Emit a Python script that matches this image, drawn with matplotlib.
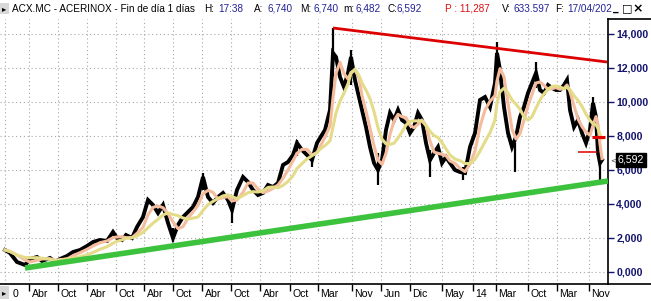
import numpy as np
import pandas as pd
import matplotlib
matplotlib.use("Agg")
import matplotlib.pyplot as plt
import matplotlib.transforms as mtransforms

# ---------------- data ----------------
bar_index = [5, 10, 17, 25, 30, 37, 42, 50, 55, 60, 67, 73, 80, 87, 93, 100, 107, 113, 117, 122,
             126, 132, 137, 143, 148, 153, 158, 163, 168, 173, 178, 183, 188, 193, 198, 203, 208,
             213, 218, 223, 228, 232, 237, 243, 248, 253, 258, 263, 268, 273, 278, 283, 288, 293,
             297, 302, 307, 312, 317, 320, 325, 330, 333, 336, 340, 344, 348, 351, 355, 359, 362,
             366, 370, 374, 378, 382, 386, 390, 394, 398, 402, 406, 410, 414, 418, 422, 426, 430,
             434, 438, 442, 446, 450, 455, 460, 465, 470, 475, 480, 485, 490, 495, 497, 500, 504,
             508, 512, 516, 520, 524, 528, 532, 536, 540, 544, 548, 552, 556, 560, 564, 567, 570,
             574, 578, 582, 586, 590, 593, 596, 598, 600, 602]
close = [1294, 1118, 588, 412, 765, 882, 647, 824, 588, 765, 941, 1176, 1294, 1529, 1765, 1882,
         1824, 2353, 2000, 1882, 2176, 2000, 2647, 3235, 4235, 3941, 3471, 3941, 2882, 2000, 2765,
         3235, 3529, 3824, 4412, 5588, 4412, 4059, 4412, 4647, 4235, 3647, 4824, 5588, 5294, 4824,
         4529, 4647, 5118, 5000, 5235, 6294, 6471, 6882, 7588, 7176, 6882, 6588, 7588, 7882, 8353,
         9529, 12882, 12647, 11471, 10882, 11706, 12647, 11294, 10294, 9529, 8529, 7353, 6412,
         6000, 6588, 8353, 9353, 8941, 9529, 8941, 8765, 8176, 8529, 9353, 8941, 7588, 6588, 7000,
         7353, 6412, 6765, 6412, 6000, 5882, 5824, 7353, 8176, 10118, 10294, 9706, 11118, 12882,
         11882, 9706, 8176, 7353, 7941, 9118, 9706, 10529, 11118, 11706, 10706, 10529, 11000,
         10824, 10706, 10706, 11000, 11294, 9529, 8529, 8941, 8176, 7588, 8353, 9941, 9118, 7000,
         6412, 6592]

spike_index = [333, 351, 378, 430, 497, 600, 536, 173, 232, 203, 297, 312, 515, 463, 593]
spike_low = [11500, 11000, 5118, 5588, 11000, 5294, 10800, 1765, 2882, 4800, 6800, 6176, 5882, 5412, 8800]
spike_high = [14353, 13059, 7000, 7200, 13529, 7000, 12353, 2600, 4000, 5824, 7765, 7000, 7600, 6200, 10294]

support_x = [25, 608]
support_y = [235, 5353]
resist_x = [333, 607]
resist_y = [14353, 12353]
level1_x = [592, 605]
level1_y = [7941, 7941]
level2_x = [578, 597]
level2_y = [7059, 7059]

tick_pos = [29, 58, 87, 116, 144, 173, 202, 231, 260, 290, 318, 352, 381, 410, 442, 473, 496, 528, 557, 589]
tick_lab = ["Abr", "Oct", "Abr", "Oct", "Abr", "Oct", "Abr", "Oct", "Abr", "Oct", "Mar",
            "Nov", "Jun", "Dic", "May", "14", "Mar", "Oct", "Mar", "Nov"]
y_ticks = [0, 2000, 4000, 6000, 8000, 10000, 12000, 14000]
last_price = 6592

# ---------------- figure ----------------
W, H = 651, 301
fig = plt.figure(figsize=(W / 100, H / 100), dpi=100)
fig.patch.set_facecolor("white")

def fx(x):
    return x / W

def fy(y):
    return 1 - y / H

ax = fig.add_axes([0, fy(284), fx(608), fy(19) - fy(284)])
ax.set_xlim(0, 608)
ax.set_ylim(-706, 14882)

s = pd.Series(close, index=bar_index, dtype=float)
ma_fast = s.rolling(3, min_periods=1).mean()
ma_slow = s.rolling(7, min_periods=1).mean()

# grid
grid_kw = dict(color="#a8a8a8", lw=0.8, linestyle=(0, (1, 2.5)), zorder=0)
for yv in y_ticks:
    ax.axhline(yv, **grid_kw)
for xv in [5] + tick_pos:
    ax.axvline(xv, **grid_kw)

ax.vlines(spike_index, spike_low, spike_high, color="black", lw=1.6, zorder=2)
ax.plot(bar_index, close, color="black", lw=2.8, zorder=2, solid_joinstyle="miter")
ax.plot(ma_fast.index, ma_fast.values, color="#f4bc9c", lw=2.2, zorder=3)
ax.plot(ma_slow.index, ma_slow.values, color="#e4dc88", lw=2.2, zorder=4)

ax.plot(support_x, support_y, color="#3cc23c", lw=4, solid_capstyle="butt", zorder=5)
ax.plot(resist_x, resist_y, color="#dd0000", lw=2, solid_capstyle="butt", zorder=5)
ax.plot(level1_x, level1_y, color="#dd0000", lw=2.2, solid_capstyle="butt", zorder=5)
ax.plot(level2_x, level2_y, color="#dd0000", lw=1.1, solid_capstyle="butt", zorder=5)

for sp in ["top", "left"]:
    ax.spines[sp].set_visible(False)
ax.spines["bottom"].set_linewidth(1.2)
ax.spines["right"].set_linewidth(1.2)

ax.set_xticks(tick_pos)
ax.set_xticklabels([])
ax.tick_params(axis="x", direction="out", length=5, width=1, color="black")

ax.yaxis.tick_right()
ax.set_yticks(y_ticks)
ax.set_yticklabels([f"{v/1000:.3f}".replace(".", ",") if v < 1000 else f"{v//1000},000" for v in y_ticks])
ax.tick_params(axis="y", direction="out", length=4, width=1, pad=2, labelsize=7.6,
               labelcolor="#14146e", color="#14146e")
for lbl in ax.get_yticklabels():
    lbl.set_fontfamily("Liberation Sans")
    lbl.set_fontweight("bold")

# x labels
xtrans = mtransforms.blended_transform_factory(ax.transData, fig.transFigure)
for p, l in zip(tick_pos, tick_lab):
    ax.text(p + 2.5, fy(294), l, transform=xtrans, ha="left", va="center",
            fontsize=7.6, family="Liberation Sans", color="black", clip_on=False)
ax.text(13, fy(294), "0", transform=xtrans, ha="left", va="center",
        fontsize=7.6, family="Liberation Sans", color="black", clip_on=False)

# last price label
ytrans = mtransforms.blended_transform_factory(fig.transFigure, ax.transData)
ax.text(fx(631), last_price, f"{last_price/1000:.3f}".replace(".", ","), transform=ytrans,
        ha="center", va="center", fontsize=7.6, family="Liberation Sans", color="white",
        bbox=dict(boxstyle="square,pad=0.2", fc="black", ec="black"), clip_on=False, zorder=10)
ax.text(fx(613), last_price, "<", transform=ytrans, ha="center", va="center",
        fontsize=5, color="#444444", clip_on=False)

# right panel box lines
fig.add_artist(plt.Line2D([fx(608), 1], [fy(19), fy(19)], color="black", lw=1.2))
fig.add_artist(plt.Line2D([fx(608), 1], [fy(284), fy(284)], color="black", lw=1.2))

# title bar
blue = "#22229a"
segs = [
    (12, "ACX.MC - ACERINOX - Fin de día 1 días", "black"),
    (204, "H:", "black"), (218, "17:38", blue),
    (254, "A:", "black"), (267, "6,740", blue),
    (300, "M:", "black"), (313, "6,740", blue),
    (343, "m:", "black"), (355, "6,482", blue),
    (387, "C:", "black"), (397, "6,592", blue),
    (445, "P : 11,287", "#dd1111"),
    (502, "V:", "black"), (513, "633.597", blue),
    (555, "F:", "black"), (567, "17/04/202", blue),
]
for x, t, c in segs:
    fig.text(fx(x), fy(8.5), t, ha="left", va="center", fontsize=7.2,
             family="Liberation Sans", color=c)

# small triangle buttons
fig.patches.append(plt.Rectangle((fx(0), fy(14)), fx(9), fy(3) - fy(14), transform=fig.transFigure,
                                 fc="#d8d8d8", ec="none"))
fig.text(fx(4.5), fy(8.5), "▸", ha="center", va="center", fontsize=6, color="black")
fig.patches.append(plt.Rectangle((fx(0), fy(299)), fx(9), fy(286) - fy(299), transform=fig.transFigure,
                                 fc="#d8d8d8", ec="none"))
fig.text(fx(4.5), fy(293), "▸", ha="center", va="center", fontsize=6, color="black")

# window buttons
fig.text(fx(616), fy(8), "_", ha="center", va="center", fontsize=8, weight="bold", color="black")
fig.text(fx(627), fy(8.5), "□", ha="center", va="center", fontsize=8, weight="bold", color="black")
fig.text(fx(638), fy(8.5), "×", ha="center", va="center", fontsize=9, weight="bold", color="black")

fig.savefig("out.png", dpi=100, facecolor="white")
